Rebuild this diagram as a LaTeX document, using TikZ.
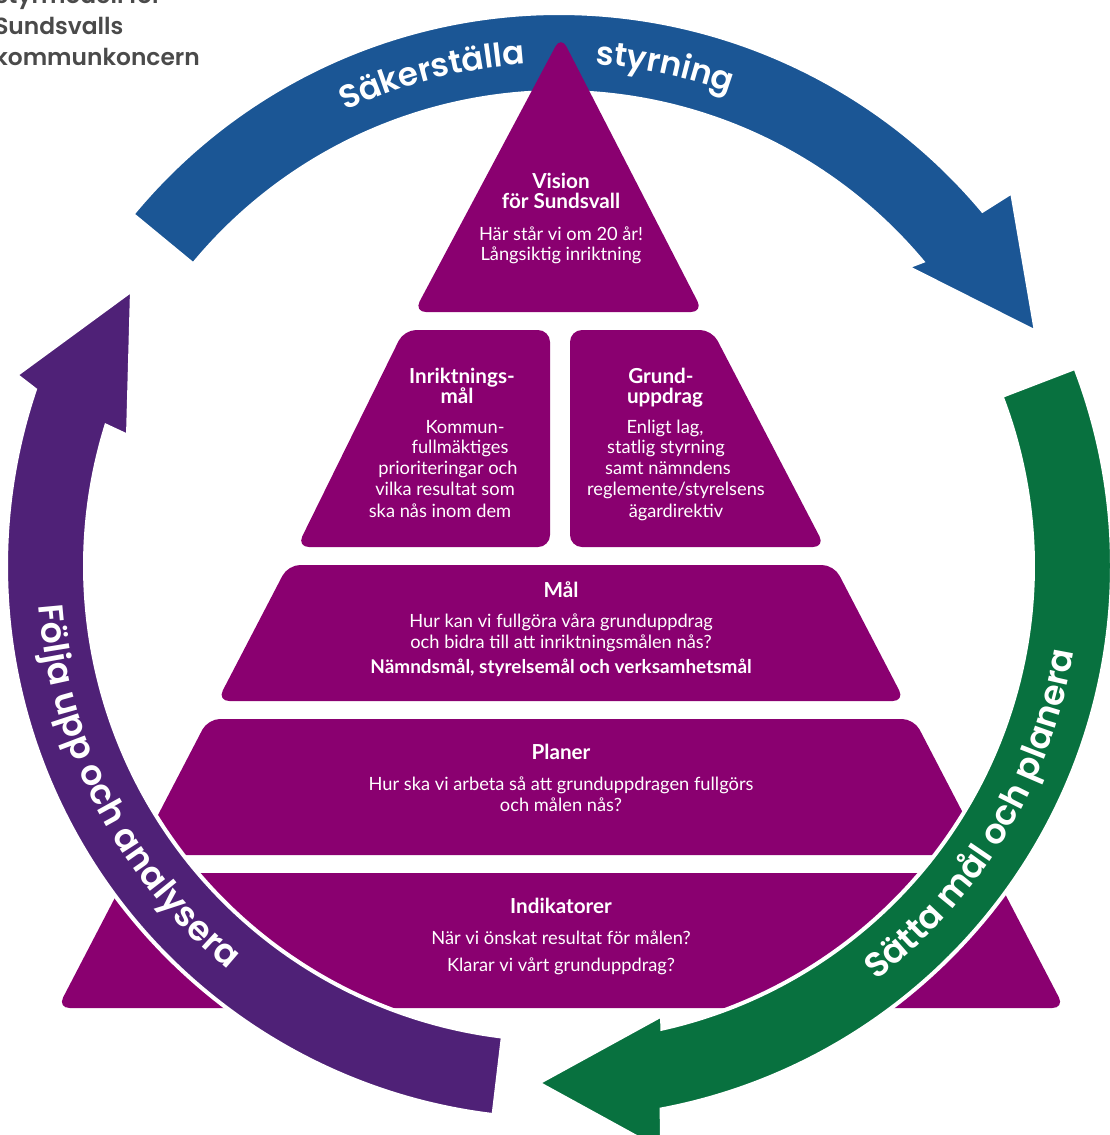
\documentclass[tikz,border=0pt]{standalone}
\usepackage{fontspec}
\setmainfont{Lato}
\newfontfamily\bandfont{Poppins SemiBold}
\usetikzlibrary{decorations.text}
\definecolor{pyr}{RGB}{138,0,112}
\definecolor{bandblue}{RGB}{27,86,149}
\definecolor{bandgreen}{RGB}{8,113,63}
\definecolor{bandpurple}{RGB}{79,33,119}
\definecolor{titlegrey}{RGB}{74,74,74}
\newcommand\bandtxt{\fontsize{24.5}{28}\selectfont\bandfont}
\newcommand\bandtxtb{\fontsize{26}{30}\selectfont\bandfont}
\begin{document}
\begin{tikzpicture}[x=0.75pt,y=-0.75pt,
  level/.style={fill=pyr, rounded corners=9pt},
  band/.style={draw=white, line width=3pt, line join=miter},
  head/.style={font=\fontsize{15.5}{18}\selectfont\bfseries, text=white, anchor=base, inner sep=0pt},
  body/.style={font=\fontsize{13.7}{16}\selectfont, text=white, anchor=base, inner sep=0pt},
  bodyb/.style={font=\fontsize{14.2}{16}\selectfont\bfseries, text=white, anchor=base, inner sep=0pt},
  ttl/.style={font=\fontsize{17.5}{21}\selectfont\bandfont, text=titlegrey, anchor=base west, inner sep=0pt},
  bandlabel/.style={decorate, decoration={text along path, text align=center, text color=white}},
]
\useasboundingbox (0,0) rectangle (1110,1135);
\clip (0,0) rectangle (1110,1135);

% title
\node[ttl] (t1) at (-6,3) {Styrmodell för};
\node[ttl] (t2) at (-6,34) {Sundsvalls};
\node[ttl] (t3) at (-6,65) {kommunkoncern};

% blue band (behind pyramid)
\begin{scope}[shift={(559,566)}]
\path[band, fill=bandblue] (219.5:553) arc[start angle=219.5, end angle=320, radius=553]
  -- (453,-374) -- (477,-234) -- (348,-299)
  -- (320:474) arc[start angle=320, end angle=219.5, radius=474] -- cycle;
\path[bandlabel, decoration={text={|\bandtxt|Säkerställa}}]
  (240:503) arc[start angle=240, end angle=271, radius=503];
\path[bandlabel, decoration={text={|\bandtxt|styrning}}]
  (266:503) arc[start angle=266, end angle=298, radius=503];
\end{scope}

% pyramid
\path[level] (561,36) -- (703,312) -- (414,312) -- cycle;
\path[level] (404,330) -- (550,330) -- (550,547) -- (297,547) -- cycle;
\path[level] (570,330) -- (712,330) -- (825,547) -- (570,547) -- cycle;
\path[level] (288,565) -- (834,565) -- (904.7,701) -- (217.3,701) -- cycle;
\path[level] (207.9,719) -- (914.1,719) -- (984.8,855) -- (137.2,855) -- cycle;
\path[level] (127.8,873) -- (994.2,873) -- (1064.4,1008) -- (57.6,1008) -- cycle;

% texts
\node[head] (v1) at (561,188) {Vision};
\node[head] (v2) at (561,208) {för Sundsvall};
\node[body] (v3) at (561,240) {Här står vi om 20 år!};
\node[body] (v4) at (561,260) {Långsiktig inriktning};

\node[head] (i1) at (462,383) {Inriktnings-};
\node[head] (i2) at (457,403) {mål};
\node[body] (i3) at (465,433) {Kommun-};
\node[body] (i4) at (460,453) {fullmäktiges};
\node[body] (i5) at (448,474) {prioriteringar och};
\node[body] (i6) at (445,495) {vilka resultat som};
\node[body] (i7) at (440,517) {ska nås inom dem};

\node[head] (g1) at (661,383) {Grund-};
\node[head] (g2) at (665,403) {uppdrag};
\node[body] (g3) at (665,433) {Enligt lag,};
\node[body] (g4) at (666,453) {statlig styrning};
\node[body] (g5) at (668,474) {samt nämndens};
\node[body] (g6) at (676,495) {reglemente/styrelsens};
\node[body] (g7) at (676,517) {ägardirektiv};

\node[head] (m1) at (561,597) {Mål};
\node[body] (m2) at (561,627) {Hur kan vi fullgöra våra grunduppdrag};
\node[body] (m3) at (561,648) {och bidra till att inriktningsmålen nås?};
\node[bodyb] (m4) at (561,673) {Nämndsmål, styrelsemål och verksamhetsmål};

\node[head] (p1) at (561,759) {Planer};
\node[body] (p2) at (561,790) {Hur ska vi arbeta så att grunduppdragen fullgörs};
\node[body] (p3) at (561,811) {och målen nås?};

\node[head] (k1) at (561,913) {Indikatorer};
\node[body] (k2) at (561,944) {När vi önskat resultat för målen?};
\node[body] (k3) at (561,971) {Klarar vi vårt grunduppdrag?};

% purple and green bands (over pyramid)
\begin{scope}[shift={(559,566)}]
\path[band, fill=bandpurple] (96.8:553) arc[start angle=96.8, end angle=198.6, radius=553]
  -- (-543,-191) -- (-427,-276) -- (-431,-130)
  -- (197.2:474) arc[start angle=197.2, end angle=96.8, radius=474] -- cycle;
\path[bandlabel, decoration={text={|\bandtxtb|Följa upp och analysera}}]
  (184:522) arc[start angle=184, end angle=121, radius=522];
\path[band, fill=bandgreen] (339:553) arc[start angle=339, end angle=439.3, radius=553]
  -- (103,585) -- (-21,517) -- (103,449)
  -- (437.4:474) arc[start angle=437.4, end angle=339, radius=474] -- cycle;
\path[bandlabel, decoration={text={|\bandtxtb|Sätta mål och planera}}]
  (62:522) arc[start angle=62, end angle=0, radius=522];
\end{scope}
\end{tikzpicture}
\end{document}
